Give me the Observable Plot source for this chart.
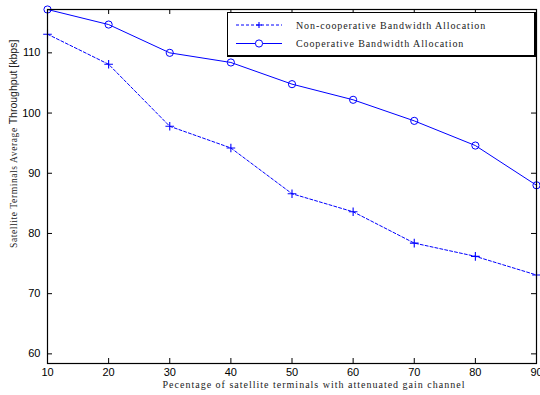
<!DOCTYPE html>
<html><head><meta charset="utf-8">
<script src="https://cdn.jsdelivr.net/npm/d3@7"></script>
<script src="https://cdn.jsdelivr.net/npm/@observablehq/plot@0.6"></script>
<style>
body{margin:0;background:#fff;}
#wrap{position:relative;width:540px;height:395px;}
#legend{position:absolute;left:227px;top:12px;width:306px;height:42px;border:1px solid #000;border-right-width:2px;border-bottom-width:2px;background:#fff;}
</style></head>
<body><div id="wrap"></div>
<script>
const percentages = [10, 20, 30, 40, 50, 60, 70, 80, 90];
const nonCooperative = [113.1, 108.1, 97.8, 94.2, 86.6, 83.6, 78.4, 76.2, 73.1];
const cooperative = [117.2, 114.7, 110.0, 108.4, 104.8, 102.2, 98.7, 94.6, 88.0];
const seriesNames = ["Non-cooperative Bandwidth Allocation", "Cooperative Bandwidth Allocation"];
const xTicks = [10, 20, 30, 40, 50, 60, 70, 80, 90];
const yTicks = [60, 70, 80, 90, 100, 110];
const xLabel = "Pecentage of satellite terminals with attenuated gain channel";
const yLabelA = "Satellite Terminals Average ";
const yLabelB = "Throughput [kbps]";

const nonData = percentages.map((p, i) => ({x: p, y: nonCooperative[i]}));
const coopData = percentages.map((p, i) => ({x: p, y: cooperative[i]}));

const W = 540, H = 395, mL = 47, mR = 4, mT = 9, mB = 32;
const innerW = W - mL - mR, innerH = H - mT - mB;
const blue = "#0000ff";

const chart = Plot.plot({
  width: W, height: H,
  marginLeft: mL, marginRight: mR, marginTop: mT, marginBottom: mB,
  style: {fontFamily: "'Liberation Sans', Arial, sans-serif", fontSize: "11px", color: "#000", background: "#fff"},
  x: {domain: [10, 90]},
  y: {domain: [58.4, 117.2]},
  marks: [
    Plot.axisX({ticks: xTicks, tickSize: 0, tickPadding: 5, label: null, fontSize: 11, tickFormat: d => d}),
    Plot.axisY({ticks: yTicks, tickSize: 0, tickPadding: 7, label: null, fontSize: 11, tickFormat: d => d}),
    Plot.tickX(xTicks, {x: d => d, insetTop: innerH - 5, stroke: "#000"}),
    Plot.tickX(xTicks, {x: d => d, insetBottom: innerH - 5, stroke: "#000"}),
    Plot.tickY(yTicks, {y: d => d, insetRight: innerW - 5, stroke: "#000"}),
    Plot.tickY(yTicks, {y: d => d, insetLeft: innerW - 5, stroke: "#000"}),
    Plot.line(nonData, {x: "x", y: "y", stroke: blue, strokeWidth: 1, strokeDasharray: "3,2"}),
    Plot.dot(nonData, {x: "x", y: "y", symbol: "plus", r: 2.9, stroke: blue, strokeWidth: 1.1}),
    Plot.line(coopData, {x: "x", y: "y", stroke: blue, strokeWidth: 1}),
    Plot.dot(coopData, {x: "x", y: "y", symbol: "circle", r: 3.6, stroke: blue, fill: "none", strokeWidth: 1}),
    Plot.frame({stroke: "#000", strokeWidth: 1.2})
  ]
});

const svg = d3.select(chart);
svg.append("text")
  .attr("x", 314).attr("y", 388)
  .attr("text-anchor", "middle")
  .attr("font-family", "'Liberation Serif', serif")
  .attr("font-size", 10).attr("letter-spacing", 1.0).attr("fill", "#222")
  .text(xLabel);
const yl = svg.append("text")
  .attr("transform", "translate(17,248) rotate(-90)")
  .attr("text-anchor", "start").attr("fill", "#222");
yl.append("tspan").attr("font-family", "'Liberation Serif', serif").attr("font-size", 9.5).attr("letter-spacing", 0.6).text(yLabelA);
yl.append("tspan").attr("font-family", "'Liberation Sans', Arial, sans-serif").attr("font-size", 10.5).text(yLabelB);

const wrap = document.getElementById("wrap");
wrap.appendChild(chart);

const leg = document.createElement("div");
leg.id = "legend";
const lsvg = d3.select(leg).append("svg").attr("width", 306).attr("height", 42).style("position", "absolute").style("left", 0).style("top", 0);
const rows = [
  {name: seriesNames[0], dash: "3,2", plus: true},
  {name: seriesNames[1], dash: null, plus: false}
];
rows.forEach((r, i) => {
  const cy = 12 + i * 18.5;
  lsvg.append("line").attr("x1", 8).attr("x2", 54).attr("y1", cy).attr("y2", cy)
    .attr("stroke", blue).attr("stroke-width", 1).attr("stroke-dasharray", r.dash);
  if (r.plus) {
    lsvg.append("line").attr("x1", 28).attr("x2", 34).attr("y1", cy).attr("y2", cy).attr("stroke", blue).attr("stroke-width", 1.1);
    lsvg.append("line").attr("x1", 31).attr("x2", 31).attr("y1", cy - 3).attr("y2", cy + 3).attr("stroke", blue).attr("stroke-width", 1.1);
  } else {
    lsvg.append("circle").attr("cx", 31).attr("cy", cy).attr("r", 3.6).attr("fill", "#fff").attr("stroke", blue);
  }
  lsvg.append("text").attr("x", 68).attr("y", cy + 3.5)
    .attr("font-family", "'Liberation Serif', serif").attr("font-size", 10).attr("letter-spacing", 0.9)
    .attr("fill", "#222").text(r.name);
});
wrap.appendChild(leg);
</script></body></html>
